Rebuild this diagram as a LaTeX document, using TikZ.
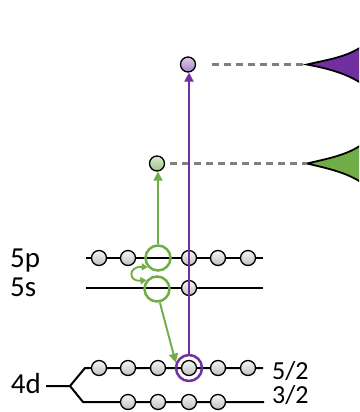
\documentclass[tikz,border=0pt]{standalone}
\usepackage{fontspec}
\setmainfont{Carlito}
\usetikzlibrary{arrows.meta}
\definecolor{mygreen}{HTML}{70AD47}
\definecolor{mypurple}{HTML}{7030A0}
\begin{document}
\begin{tikzpicture}[x=1pt,y=-1pt,
  lvl/.style={line width=2pt, black},
  eball/.style={circle, draw=black, line width=1.3pt, minimum size=15pt, inner sep=0pt, top color=gray!8, bottom color=gray!50},
  gball/.style={eball, top color=mygreen!25, bottom color=mygreen!70},
  pball/.style={eball, top color=mypurple!25, bottom color=mypurple!60},
  gring/.style={circle, draw=mygreen, line width=2.5pt, minimum size=25pt, inner sep=0pt},
  pring/.style={circle, draw=mypurple, line width=2.5pt, minimum size=26pt, inner sep=0pt},
  lab/.style={font=\fontsize{29}{32}\selectfont, inner sep=0pt},
  slab/.style={font=\fontsize{26}{28}\selectfont, inner sep=0pt},
  garrow/.style={draw=mygreen, line width=1.9pt, -{Triangle[length=9pt,width=9pt]}},
  parrow/.style={draw=mypurple, line width=1.9pt, -{Triangle[length=9pt,width=9pt]}},
  dline/.style={draw=gray, line width=2.2pt, dash pattern=on 7pt off 5pt},
  peak/.style={draw=black, line width=1.8pt}
]
\useasboundingbox (0,0) rectangle (359,412);
\begin{scope}
\clip (0,0) rectangle (359,412);

% peaks
\coordinate (ptip) at (307,64.5);
\coordinate (gtip) at (307,163.5);
\fill[mypurple, peak] (ptip) .. controls (330,59) and (350,57) .. (368,42) -- (368,88)
  .. controls (350,74) and (330,69) .. (ptip) -- cycle;
\fill[mygreen, peak] (gtip) .. controls (330,158) and (350,155) .. (368,140) -- (368,187)
  .. controls (350,173) and (330,169) .. (gtip) -- cycle;

% levels
\coordinate (p5a) at (86,258); \coordinate (p5b) at (263,258);
\coordinate (s5a) at (86,288); \coordinate (s5b) at (263,288);
\coordinate (d5a) at (85,368); \coordinate (d5b) at (263,368);
\coordinate (d3a) at (83,402); \coordinate (d3b) at (264,402);
\coordinate (stemA) at (46,386); \coordinate (stemB) at (70,386);
\draw[lvl] (p5a) -- (p5b);
\draw[lvl] (s5a) -- (s5b);
\draw[lvl, line join=round] (stemA) -- (stemB) -- (d5a) -- (d5b);
\draw[lvl, line join=round] (stemB) -- (d3a) -- (d3b);

% 5p electrons
\node[eball] (p1) at (99,258) {};
\node[eball] (p2) at (128,258) {};
\node[eball] (p4) at (189,258) {};
\node[eball] (p5) at (218,258) {};
\node[eball] (p6) at (248,258) {};
% 5s electron
\node[eball] (s2) at (189,288) {};
% 4d 5/2
\node[eball] (a1) at (99,368) {};
\node[eball] (a2) at (128,368) {};
\node[eball] (a3) at (158,368) {};
\node[eball] (a4) at (189,368) {};
\node[eball] (a5) at (218,368) {};
\node[eball] (a6) at (248,368) {};
% 4d 3/2
\node[eball] (b1) at (128,402) {};
\node[eball] (b2) at (158,402) {};
\node[eball] (b3) at (189,402) {};
\node[eball] (b4) at (218,402) {};

% holes
\node[gring] (r5p) at (158,258) {};
\node[gring] (r5s) at (157,289) {};
\node[pring] (r4d) at (189,368) {};

% excited electrons
\node[gball, minimum size=15pt] (ge) at (157,163.5) {};
\node[pball, minimum size=15pt] (pe) at (188,64.5) {};

% dashed lines
\draw[dline] (ge.east) ++(5,0) -- (gtip);
\draw[dline] (pe.east) ++(16,0) -- (ptip);

% arrows
\draw[parrow] (r4d.north) -- (r4d.north |- pe.south);
\draw[garrow] (r5p.north) -- (r5p.north |- ge.south);
\draw[garrow] (r5s.-78) -- (r4d.158);
\draw[draw=mygreen, line width=1.9pt, {Triangle[length=6pt,width=7pt]}-{Triangle[length=6pt,width=7pt]}]
  (r5p.222) .. controls (128,266) and (128,282) .. (r5s.140);

% labels
\node[lab, anchor=base west] (t5p) at (10,267) {5p};
\node[lab, anchor=base west] (t5s) at (10,296) {5s};
\node[lab, anchor=east] (t4d) at (41,384) {4d};
\node[slab, anchor=base west] (t52) at (272,379) {5/2};
\node[slab, anchor=base west] (t32) at (272,403) {3/2};
\end{scope}
\end{tikzpicture}
\end{document}
